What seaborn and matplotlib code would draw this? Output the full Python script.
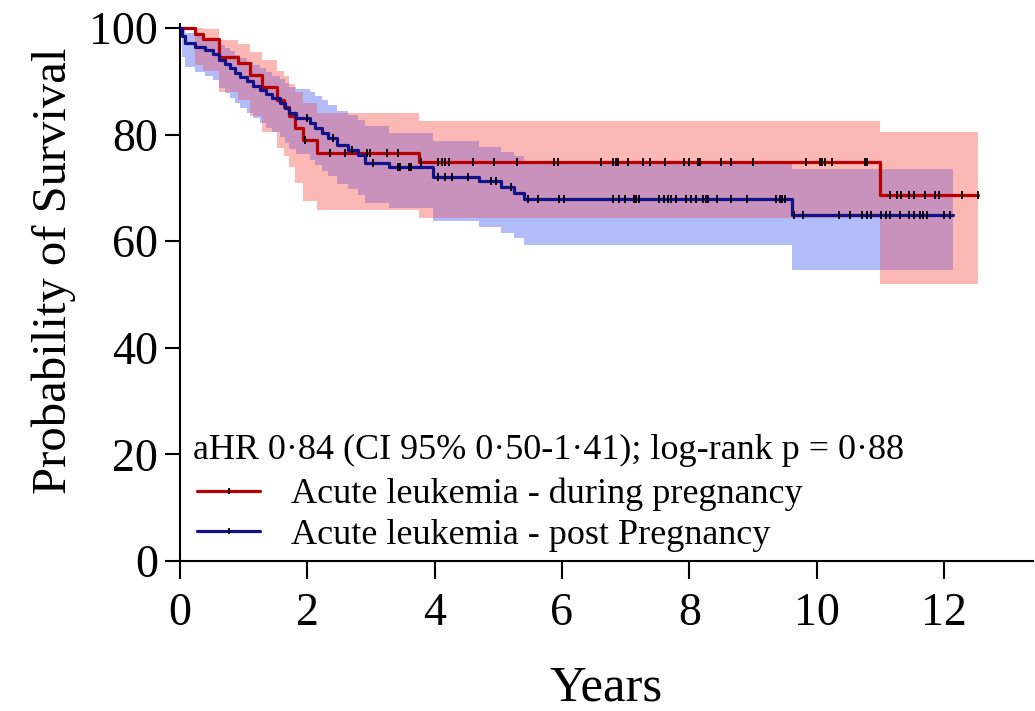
import numpy as np
import pandas as pd
import matplotlib
matplotlib.use("Agg")
import matplotlib.pyplot as plt
from matplotlib.lines import Line2D
import seaborn as sns

# ---------------- data ----------------
red_time = [0, 0.24, 0.36, 0.62, 0.91, 1.10, 1.29, 1.52, 1.63, 1.71, 1.81, 1.94, 2.15, 3.75, 11.0]
red_surv = [100, 98.9, 98.0, 94.5, 93.5, 91.2, 89.0, 86.5, 85.1, 83.4, 81.2, 79.0, 76.5, 74.9, 68.7]
red_lower = [100, 93.0, 92.0, 88.0, 86.5, 83.5, 80.5, 77.5, 76.0, 74.0, 71.0, 67.5, 65.9, 64.4, 52.0]
red_upper = [100, 100, 99.8, 97.7, 97.0, 95.5, 94.0, 92.0, 91.0, 89.5, 88.0, 86.0, 84.0, 82.6, 80.5]
red_end = 12.53
red_censor = [1.97, 2.36, 2.60, 2.94, 2.99, 3.26, 3.42, 3.78, 4.06, 4.11, 4.16, 4.22, 4.61, 4.93,
              5.29, 5.87, 5.94, 6.61, 6.80, 6.85, 6.88, 7.04, 7.28, 7.39, 7.62, 7.92, 8.00, 8.14,
              8.17, 8.50, 8.66, 9.01, 9.83, 10.05, 10.08, 10.13, 10.24, 10.76, 10.79, 11.15, 11.26,
              11.32, 11.46, 11.53, 11.70, 11.86, 11.92, 12.28, 12.53]

blue_time = [0, 0.03, 0.08, 0.24, 0.40, 0.52, 0.62, 0.70, 0.78, 0.86, 0.95, 1.05, 1.15, 1.25,
             1.35, 1.45, 1.57, 1.65, 1.72, 1.83, 2.05, 2.12, 2.23, 2.33, 2.47, 2.64, 2.80, 2.91,
             3.29, 3.97, 4.69, 5.04, 5.24, 5.40, 9.62]
blue_surv = [100, 98.5, 97.2, 96.5, 95.8, 95.2, 94.0, 93.2, 92.4, 91.6, 90.8, 90.0, 89.2, 88.4,
             87.6, 86.8, 86.0, 85.0, 84.0, 83.1, 82.2, 81.2, 80.3, 79.4, 78.0, 77.1, 76.2, 74.7,
             73.9, 72.0, 71.2, 70.1, 69.1, 67.9, 65.0]
blue_lower = [100, 94.5, 92.7, 91.8, 91.0, 90.2, 88.8, 87.8, 86.8, 85.9, 85.0, 84.0, 83.1, 82.2,
              81.3, 80.4, 79.5, 78.4, 77.3, 76.3, 75.3, 74.2, 73.2, 72.2, 70.7, 69.7, 68.7, 67.1,
              66.2, 63.8, 62.7, 61.5, 60.6, 59.2, 54.5]
blue_upper = [100, 99.7, 99.0, 98.6, 98.1, 97.7, 96.8, 96.2, 95.6, 95.0, 94.4, 93.7, 93.0, 92.4,
              91.7, 91.0, 90.4, 89.6, 88.9, 88.6, 88.0, 87.2, 86.4, 85.6, 84.4, 83.6, 82.8, 81.6,
              80.2, 78.7, 77.7, 76.8, 75.9, 74.6, 73.5]
blue_end = 12.14
blue_censor = [2.00, 2.40, 2.70, 3.04, 3.42, 3.46, 3.60, 3.63, 4.06, 4.16, 4.27, 4.52, 4.88, 4.96,
               5.20, 5.46, 5.63, 5.95, 6.03, 6.80, 6.90, 6.99, 7.13, 7.17, 7.21, 7.53, 7.61, 7.66,
               7.72, 7.80, 7.95, 8.03, 8.11, 8.22, 8.26, 8.30, 8.43, 8.66, 8.91, 9.37, 9.42, 9.46,
               9.50, 9.65, 9.78, 10.36, 10.52, 10.72, 10.79, 10.85, 11.01, 11.09, 11.15, 11.31,
               11.46, 11.53, 11.62, 11.68, 11.73, 12.00, 12.10]

labels = ["Acute leukemia - during pregnancy", "Acute leukemia - post Pregnancy"]
annotation = "aHR 0\u00b784 (CI 95% 0\u00b750-1\u00b741); log-rank p = 0\u00b788"
x_ticks = [0, 2, 4, 6, 8, 10, 12]
y_ticks = [0, 20, 40, 60, 80, 100]

# ---------------- style ----------------
sns.set_theme(style="ticks")
plt.rcParams["font.family"] = ["Liberation Serif", "DejaVu Serif"]
plt.rcParams["axes.linewidth"] = 1.5
plt.rcParams["text.color"] = "black"
plt.rcParams["axes.labelcolor"] = "black"

RED = "#B80000"
BLUE = "#12128A"
PINK = "#FBB8B4"
LBLUE = "#B2BCF8"
PURPLE = "#C892BC"


def extend(t, v, end):
    t = np.asarray(t, float)
    v = np.asarray(v, float)
    return np.append(t, end), np.append(v, v[-1])


def step_eval(t, v, x):
    idx = np.searchsorted(np.asarray(t), x, side="right") - 1
    idx = np.clip(idx, 0, len(v) - 1)
    return np.asarray(v)[idx]


fig = plt.figure(figsize=(10.35, 7.11), dpi=100)
ax = fig.add_axes([0.1739, 0.211, 0.998 - 0.1739, 0.9667 - 0.211])

# confidence bands
rt, rl = extend(red_time, red_lower, red_end)
_, ru = extend(red_time, red_upper, red_end)
bt, bl = extend(blue_time, blue_lower, blue_end)
_, bu = extend(blue_time, blue_upper, blue_end)
ax.fill_between(rt, rl, ru, step="post", color=PINK, lw=0, zorder=1)
ax.fill_between(bt, bl, bu, step="post", color=LBLUE, lw=0, zorder=1)

# overlap
grid = np.unique(np.concatenate([rt, bt]))
grid = grid[grid <= min(red_end, blue_end)]
lo = np.maximum(step_eval(red_time, red_lower, grid), step_eval(blue_time, blue_lower, grid))
hi = np.minimum(step_eval(red_time, red_upper, grid), step_eval(blue_time, blue_upper, grid))
ax.fill_between(grid, lo, hi, where=hi > lo, step="post", color=PURPLE, lw=0, zorder=2,
                interpolate=False)

# survival curves
rt_s, rs_s = extend(red_time, red_surv, red_end)
bt_s, bs_s = extend(blue_time, blue_surv, blue_end)
df_red = pd.DataFrame({"t": rt_s, "s": rs_s})
df_blue = pd.DataFrame({"t": bt_s, "s": bs_s})
sns.lineplot(data=df_red, x="t", y="s", ax=ax, color=RED, lw=2.3, drawstyle="steps-post",
             estimator=None, sort=False, zorder=4)
sns.lineplot(data=df_blue, x="t", y="s", ax=ax, color=BLUE, lw=2.3, drawstyle="steps-post",
             estimator=None, sort=False, zorder=4)

# censor marks
rc = np.asarray(red_censor)
bc = np.asarray(blue_censor)
ax.plot(rc, step_eval(red_time, red_surv, rc), ls="none", marker="|", ms=5.5, mew=1.3,
        color="black", zorder=5)
ax.plot(bc, step_eval(blue_time, blue_surv, bc), ls="none", marker="|", ms=5.5, mew=1.3,
        color="black", zorder=5)

# axes
ax.set_xlim(0, 13.4)
ax.set_ylim(0, 100.8)
ax.set_xticks(x_ticks)
ax.set_yticks(y_ticks)
ax.tick_params(axis="both", labelsize=33, width=1.5, color="black", labelcolor="black")
ax.tick_params(axis="x", length=13, pad=10)
ax.tick_params(axis="y", length=11, pad=5)
sns.despine(ax=ax)
ax.spines["left"].set_color("black")
ax.spines["bottom"].set_color("black")
ax.set_xlabel("Years", fontsize=36.5, color="black", labelpad=21)
ax.set_ylabel("Probability of Survival", fontsize=35, color="black")
ax.yaxis.set_label_coords(-0.122, 0.54)
ax.grid(False)

# annotation and legend
ax.text(0.2, 20.7, annotation, fontsize=26, ha="left", va="center", color="black")
handles = [Line2D([], [], color=RED, lw=2.3, marker="|", ms=5, mew=1.3, mec="black"),
           Line2D([], [], color=BLUE, lw=2.3, marker="|", ms=5, mew=1.3, mec="black")]
leg = ax.legend(handles, labels, loc="upper left", bbox_to_anchor=(0.02, 0.155),
                frameon=False, fontsize=26, handlelength=1.75, handletextpad=0.85,
                borderaxespad=0, borderpad=0, labelspacing=0.2, numpoints=1,
                labelcolor="black")

fig.savefig("out.png", dpi=100)
